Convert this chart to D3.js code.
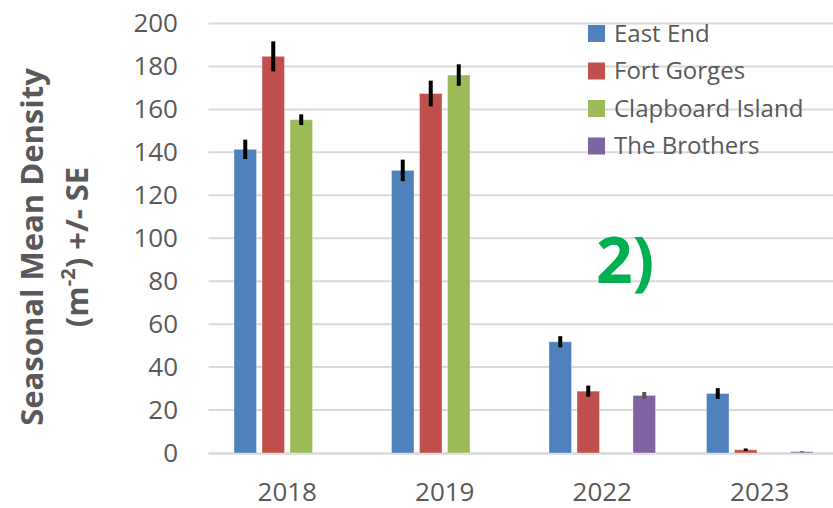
<!DOCTYPE html>
<html>
<head>
<meta charset="utf-8">
<script src="https://cdn.jsdelivr.net/npm/d3@7"></script>
<style>
  body { margin: 0; background: #fff; }
  svg { display: block; font-family: "Open Sans", "Noto Sans", sans-serif; }
</style>
</head>
<body>
<div id="chart"></div>
<script>
// chart data
var years = ["2018", "2019", "2022", "2023"];
var sites = ["East End", "Fort Gorges", "Clapboard Island", "The Brothers"];
var siteColors = ["#4F81BD", "#C0504D", "#9BBB59", "#8064A2"];
var errColors = ["#000", "#000", "#000", "#555"];

// mean density per site, one value per year (null = no bar)
var eastEnd = [141.4, 131.6, 51.8, 27.7];
var fortGorges = [184.7, 167.4, 28.8, 1.5];
var clapboard = [155.2, 176.0, null, null];
var brothers = [null, null, 26.8, 0.6];

// standard error per site
var eastEndSE = [4.5, 5.0, 2.6, 2.5];
var fortGorgesSE = [7.0, 6.0, 2.6, 0.6];
var clapboardSE = [2.5, 5.0, null, null];
var brothersSE = [null, null, 1.6, 0.2];

var yTicks = [0, 20, 40, 60, 80, 100, 120, 140, 160, 180, 200];

var values = [eastEnd, fortGorges, clapboard, brothers];
var errors = [eastEndSE, fortGorgesSE, clapboardSE, brothersSE];

var width = 833, height = 508;
var plotLeft = 208.5, plotRight = 838.5, plotTop = 23.5, plotBottom = 453;

var svg = d3.select("#chart").append("svg")
	.attr("width", width)
	.attr("height", height);

var x0 = d3.scaleBand().domain(years).range([plotLeft, plotRight]).padding(0);
var x1 = d3.scaleBand().domain(sites).range([22.75, 134.75])
	.paddingInner(0.196).paddingOuter(0.098);
var y = d3.scaleLinear().domain([0, 200]).range([plotBottom, plotTop]);

//gridlines
svg.append("g")
	.selectAll("line")
	.data(yTicks.filter(function(d) { return d > 0; }))
	.enter().append("line")
	.attr("x1", plotLeft).attr("x2", plotRight)
	.attr("y1", function(d) { return y(d); })
	.attr("y2", function(d) { return y(d); })
	.attr("stroke", "#D9D9D9")
	.attr("stroke-width", 2);

//x axis line (under the bars)
svg.append("line")
	.attr("x1", plotLeft).attr("x2", plotRight)
	.attr("y1", y(0) + 0.5).attr("y2", y(0) + 0.5)
	.attr("stroke", "#D9D9D9")
	.attr("stroke-width", 2.5);

//y axis labels
var yAxis = svg.append("g")
	.attr("transform", "translate(" + plotLeft + ",0)")
	.call(d3.axisLeft(y).tickValues(yTicks).tickSize(0).tickPadding(30.5));
yAxis.select(".domain").remove();
yAxis.selectAll("text")
	.attr("fill", "#595959")
	.style("font-size", "26px")
	.style("font-family", "'Open Sans', sans-serif");

//bars
var rows = [];
years.forEach(function(yr, i) {
	sites.forEach(function(s, j) {
		if (values[j][i] != null) {
			rows.push({year: yr, site: s, idx: j, value: values[j][i], se: errors[j][i]});
		}
	});
});

svg.append("g")
	.selectAll("rect")
	.data(rows)
	.enter().append("rect")
	.attr("x", function(d) { return x0(d.year) + x1(d.site); })
	.attr("y", function(d) { return y(d.value); })
	.attr("width", x1.bandwidth())
	.attr("height", function(d) { return y(0) - y(d.value); })
	.attr("fill", function(d) { return siteColors[d.idx]; })
	.attr("stroke", "#fff")
	.attr("stroke-opacity", 0.35)
	.attr("stroke-width", 1);

//error bars
svg.append("g")
	.selectAll("line")
	.data(rows)
	.enter().append("line")
	.attr("x1", function(d) { return x0(d.year) + x1(d.site) + x1.bandwidth() / 2; })
	.attr("x2", function(d) { return x0(d.year) + x1(d.site) + x1.bandwidth() / 2; })
	.attr("y1", function(d) { return y(d.value - d.se); })
	.attr("y2", function(d) { return y(d.value + d.se); })
	.attr("stroke", function(d) { return errColors[d.idx]; })
	.attr("stroke-width", 4);

//x axis labels
var xAxis = svg.append("g")
	.attr("transform", "translate(0," + plotBottom + ")")
	.call(d3.axisBottom(x0).tickSize(0).tickPadding(30));
xAxis.select(".domain").remove();
xAxis.selectAll("text")
	.attr("fill", "#595959")
	.style("font-size", "26px")
	.style("font-family", "'Open Sans', sans-serif");

//y axis title
var title = svg.append("g").attr("fill", "#595959")
	.style("font-weight", "bold").style("font-size", "31px");
title.append("text")
	.attr("transform", "translate(43,247) rotate(-90)")
	.attr("text-anchor", "middle")
	.text("Seasonal Mean Density");
var t2 = title.append("text")
	.attr("transform", "translate(88,247) rotate(-90)")
	.attr("text-anchor", "middle");
t2.append("tspan").text("(m");
t2.append("tspan").attr("baseline-shift", "super").style("font-size", "20px").text("-2");
t2.append("tspan").text(") +/- SE");

//legend
var legend = svg.append("g");
var legendRows = legend.selectAll("g")
	.data(sites)
	.enter().append("g")
	.attr("transform", function(d, i) { return "translate(588," + (33.5 + i * 37.5) + ")"; });
legendRows.append("rect")
	.attr("x", 0).attr("y", -8.5)
	.attr("width", 17).attr("height", 17)
	.attr("fill", function(d, i) { return siteColors[i]; });
legendRows.append("text")
	.attr("x", 26).attr("y", 0)
	.attr("dy", "0.35em")
	.attr("fill", "#595959")
	.style("font-size", "24px")
	.text(function(d) { return d; });

//panel label
svg.append("text")
	.attr("x", 596).attr("y", 283)
	.attr("fill", "#00B050")
	.style("font-weight", "bold")
	.style("font-size", "64px")
	.text("2)");
</script>
</body>
</html>
